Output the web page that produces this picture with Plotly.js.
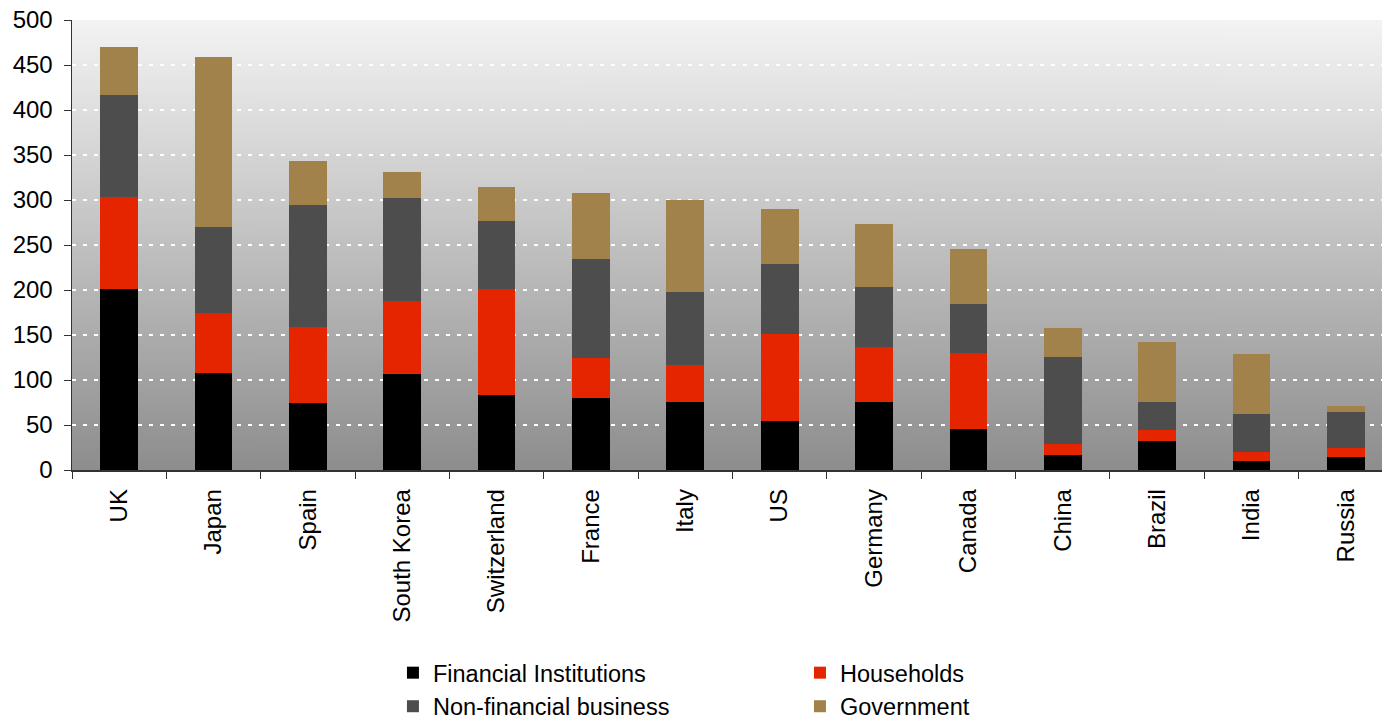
<!DOCTYPE html>
<html>
<head>
<meta charset="utf-8">
<script src="https://cdn.plot.ly/plotly-3.0.1.min.js"></script>
<style>
html,body{margin:0;padding:0;background:#fff;}
#chart{width:1382px;height:720px;}
</style>
</head>
<body>
<div id="chart"></div>
<script>
const countries = ["UK","Japan","Spain","South Korea","Switzerland","France","Italy","US","Germany","Canada","China","Brazil","India","Russia"];
const financialInstitutions = [201,108,74,107,83,80,76,54,76,46,17,32,10,14];
const households            = [102,67,85,81,118,45,41,97,61,84,12,12,10,10];
const nonFinancialBusiness  = [114,95,136,114,76,110,81,78,66,54,97,32,42,41];
const government            = [53,189,48,29,38,73,102,61,70,62,32,66,67,6];
const yTicks = [0,50,100,150,200,250,300,350,400,450,500];

// vertical gradient background image for the plot area
const cv = document.createElement('canvas');
cv.width = 4; cv.height = 450;
const ctx = cv.getContext('2d');
const g = ctx.createLinearGradient(0,0,0,450);
g.addColorStop(0,'#f3f3f3');
g.addColorStop(1,'#8d8d8d');
ctx.fillStyle = g; ctx.fillRect(0,0,4,450);
const bgURI = cv.toDataURL('image/png');

const font = {family:'"Liberation Sans", Arial, sans-serif', size:24, color:'#000'};
const legendFont = {family:'"Liberation Sans", Arial, sans-serif', size:23.5, color:'#000'};

const traces = [
  {name:'Financial Institutions', y:financialInstitutions, color:'#000000', legend:'legend'},
  {name:'Households', y:households, color:'#e52500', legend:'legend2'},
  {name:'Non-financial business', y:nonFinancialBusiness, color:'#4d4d4d', legend:'legend'},
  {name:'Government', y:government, color:'#a1824b', legend:'legend2'}
].map(t => ({
  type:'bar', x:countries, y:t.y, name:t.name, legend:t.legend,
  marker:{color:t.color, line:{width:0}}, hoverinfo:'x+y+name'
}));

const layout = {
  width:1382, height:720,
  margin:{l:72, r:0, t:20, b:250, autoexpand:false},
  paper_bgcolor:'#ffffff',
  plot_bgcolor:'rgba(0,0,0,0)',
  font:font,
  barmode:'stack',
  bargap:0.6,
  images:[{source:bgURI, xref:'paper', yref:'paper', x:0, y:1, sizex:1, sizey:1,
           sizing:'stretch', xanchor:'left', yanchor:'top', layer:'below'}],
  xaxis:{
    type:'category', categoryorder:'array', categoryarray:countries,
    range:[-0.5, 13.383],
    tickangle:-90, ticks:'outside', tickson:'boundaries', ticklen:7, tickcolor:'#333',
    showline:true, linecolor:'#333', linewidth:1.5, showgrid:false,
    tickfont:font, ticklabelstandoff:8
  },
  yaxis:{
    range:[0,500], tickvals:yTicks, ticktext:yTicks.map(String),
    ticks:'outside', ticklen:7, tickcolor:'#333',
    showline:true, linecolor:'#333', linewidth:1.5,
    showgrid:true, gridcolor:'#ffffff', gridwidth:2, griddash:'4px,7px',
    zeroline:false, tickfont:font, ticklabelstandoff:6
  },
  legend:{orientation:'v', x:0.245, xanchor:'left', y:-0.402, yanchor:'top',
          font:legendFont, bgcolor:'rgba(0,0,0,0)', traceorder:'normal', tracegroupgap:0},
  legend2:{orientation:'v', x:0.5557, xanchor:'left', y:-0.402, yanchor:'top',
          font:legendFont, bgcolor:'rgba(0,0,0,0)', traceorder:'normal', tracegroupgap:0},
  showlegend:true
};

Plotly.newPlot('chart', traces, layout, {displayModeBar:false, staticPlot:true});
</script>
</body>
</html>
